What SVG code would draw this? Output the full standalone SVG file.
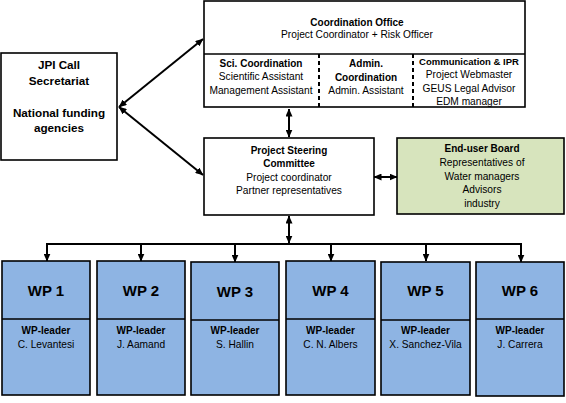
<svg xmlns="http://www.w3.org/2000/svg" width="566" height="403" viewBox="0 0 566 403">
<defs>
<marker id="ah" viewBox="0 0 8 7" refX="7.5" refY="3.5" markerWidth="8" markerHeight="7" markerUnits="userSpaceOnUse" orient="auto-start-reverse">
<path d="M0,0 L8,3.5 L0,7 z" fill="#000"/>
</marker>
</defs>
<style>
.box{fill:#fff;stroke:#000;stroke-width:1.6}
.wp{fill:#8EB4E3;stroke:#000;stroke-width:1.6}
.eub{fill:#D7E4BD;stroke:#000;stroke-width:1.6}
.div{stroke:#000;stroke-width:1.6}
.dash{stroke:#000;stroke-width:2;stroke-dasharray:4,3}
.con{fill:none;stroke:#000;stroke-width:2}
.bi{marker-start:url(#ah);marker-end:url(#ah)}
.one{marker-end:url(#ah)}
text{font-family:"Liberation Sans",Arial,sans-serif;text-anchor:middle;fill:#000}
.r{font-size:10.2px}
.b{font-size:10px;font-weight:bold}
.jpi{font-size:11.7px;font-weight:bold}
.wpt{font-size:15px;font-weight:bold}
</style>
<rect width="566" height="403" fill="#fff"/>

<g id="connectors">
<line class="con bi" x1="119" y1="107" x2="203" y2="39"/>
<line class="con bi" x1="119" y1="107" x2="203" y2="175"/>
<line class="con bi" x1="289" y1="109" x2="289" y2="137"/>
<line class="con bi" x1="374" y1="177" x2="397" y2="177"/>
<line class="con bi" x1="289" y1="216" x2="289" y2="243"/>
<polyline class="con" points="47,252 47,244 521,244 521,252"/>
<line class="con one" x1="47" y1="244" x2="47" y2="261"/>
<line class="con one" x1="141" y1="244" x2="141" y2="261"/>
<line class="con one" x1="235" y1="244" x2="235" y2="262"/>
<line class="con one" x1="331" y1="244" x2="331" y2="261"/>
<line class="con one" x1="426" y1="244" x2="426" y2="261"/>
<line class="con one" x1="521" y1="244" x2="521" y2="262"/>
</g>

<g id="jpi">
<rect class="box" x="1" y="53" width="116" height="107"/>
<text class="jpi" x="59" y="69">JPI Call</text>
<text class="jpi" x="59" y="85">Secretariat</text>
<text class="jpi" x="59" y="117">National funding</text>
<text class="jpi" x="59" y="132">agencies</text>
</g>

<g id="coordination-office">
<rect class="box" x="204" y="1" width="321" height="106"/>
<line class="div" x1="204" y1="54" x2="525" y2="54"/>
<line class="dash" x1="319" y1="54" x2="319" y2="107"/>
<line class="dash" x1="413" y1="54" x2="413" y2="107"/>
<text class="b" x="357" y="26">Coordination Office</text>
<text class="r" x="357" y="38">Project Coordinator + Risk Officer</text>
<text class="b" x="261" y="67">Sci. Coordination</text>
<text class="r" x="261" y="80">Scientific Assistant</text>
<text class="r" x="261" y="94">Management Assistant</text>
<text class="b" x="366" y="67">Admin.</text>
<text class="b" x="366" y="81">Coordination</text>
<text class="r" x="366" y="94">Admin. Assistant</text>
<text class="b" x="469" y="65" style="font-size:9.5px">Communication &amp; IPR</text>
<text class="r" x="469" y="78">Project Webmaster</text>
<text class="r" x="469" y="92">GEUS Legal Advisor</text>
<text class="r" x="469" y="105">EDM manager</text>
</g>

<g id="steering-committee">
<rect class="box" x="204" y="138" width="170" height="77"/>
<text class="b" x="289" y="154">Project Steering</text>
<text class="b" x="289" y="167">Committee</text>
<text class="r" x="289" y="181">Project coordinator</text>
<text class="r" x="289" y="194">Partner representatives</text>
</g>

<g id="end-user-board">
<rect class="eub" x="397" y="138" width="167" height="76"/>
<text class="b" x="482" y="152">End-user Board</text>
<text class="r" x="482" y="166">Representatives of</text>
<text class="r" x="482" y="180">Water managers</text>
<text class="r" x="482" y="193">Advisors</text>
<text class="r" x="482" y="207">industry</text>
</g>

<g id="wp1">
<rect class="wp" x="2" y="261" width="88" height="134"/>
<line class="div" x1="2" y1="319" x2="90" y2="319"/>
<text class="wpt" x="46" y="296">WP 1</text>
<text class="b" x="46" y="334">WP-leader</text>
<text class="r" x="46" y="348">C. Levantesi</text>
</g>
<g id="wp2">
<rect class="wp" x="97" y="261" width="88" height="134"/>
<line class="div" x1="97" y1="319" x2="185" y2="319"/>
<text class="wpt" x="141" y="296">WP 2</text>
<text class="b" x="141" y="334">WP-leader</text>
<text class="r" x="141" y="348">J. Aamand</text>
</g>
<g id="wp3">
<rect class="wp" x="191" y="262" width="88" height="133"/>
<line class="div" x1="191" y1="320" x2="279" y2="320"/>
<text class="wpt" x="235" y="297">WP 3</text>
<text class="b" x="235" y="334">WP-leader</text>
<text class="r" x="235" y="348">S. Hallin</text>
</g>
<g id="wp4">
<rect class="wp" x="286" y="261" width="89" height="134"/>
<line class="div" x1="286" y1="319" x2="375" y2="319"/>
<text class="wpt" x="330.5" y="296">WP 4</text>
<text class="b" x="330.5" y="334">WP-leader</text>
<text class="r" x="330.5" y="348">C. N. Albers</text>
</g>
<g id="wp5">
<rect class="wp" x="381" y="262" width="89" height="133"/>
<line class="div" x1="381" y1="320" x2="470" y2="320"/>
<text class="wpt" x="425.5" y="296">WP 5</text>
<text class="b" x="425.5" y="334">WP-leader</text>
<text class="r" x="425.5" y="348">X. Sanchez-Vila</text>
</g>
<g id="wp6">
<rect class="wp" x="476" y="262" width="88" height="134"/>
<line class="div" x1="476" y1="319" x2="564" y2="319"/>
<text class="wpt" x="520" y="296">WP 6</text>
<text class="b" x="520" y="334">WP-leader</text>
<text class="r" x="520" y="348">J. Carrera</text>
</g>
</svg>
